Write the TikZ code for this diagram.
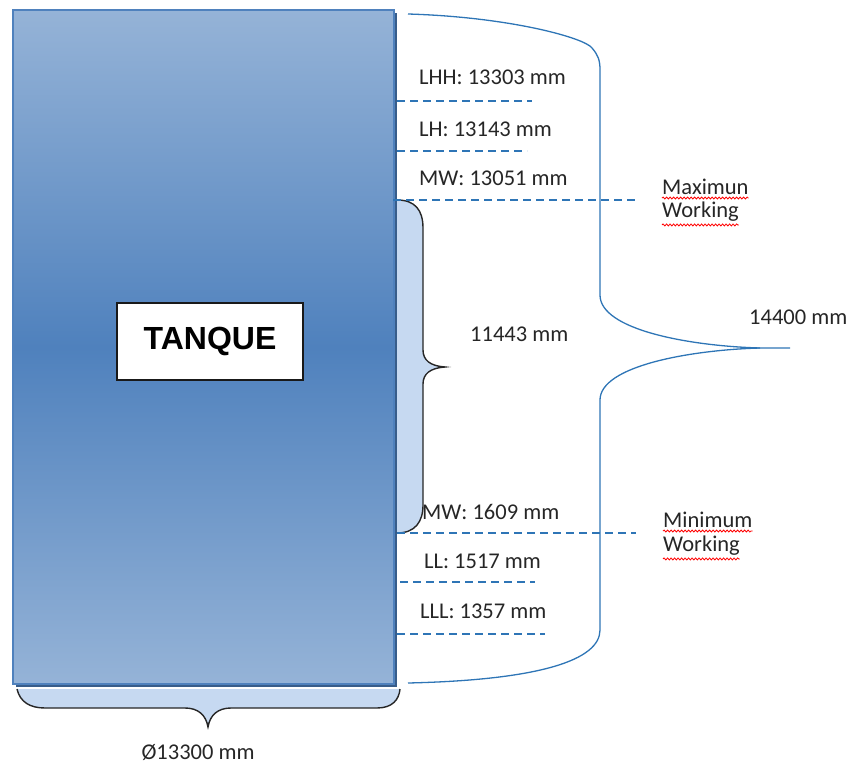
\documentclass[tikz,border=0pt]{standalone}
\usepackage{fontspec}
\setmainfont{Carlito}
\newfontfamily\arialfont{Liberation Sans}
\usetikzlibrary{decorations.pathmorphing}

\definecolor{tankdark}{RGB}{79,129,189}
\definecolor{tanklight}{RGB}{149,179,215}
\definecolor{tankedge}{RGB}{56,93,138}
\definecolor{bracefill}{RGB}{198,217,241}
\definecolor{levelblue}{RGB}{46,117,182}

\tikzset{
  level/.style={levelblue, line width=1.5pt, dash pattern=on 8pt off 5pt},
  dimline/.style={levelblue, line width=1.3pt},
  lbl/.style={anchor=west, inner sep=0pt, text=black!85, font=\fontsize{22.5}{26}\selectfont},
  spell/.style={red, line width=0.8pt, decorate,
    decoration={snake, amplitude=1pt, segment length=3.5pt}}
}

\begin{document}
\begin{tikzpicture}[x=1pt,y=-1pt]
    \useasboundingbox (0,0) rectangle (849,765);

    \def\tank{(13,10) rectangle (394,684)}
    \def\sidebrace{(397,200) .. controls (415,200) and (423,210) .. (423,228) -- (423,350)
        .. controls (423,360) and (430,366) .. (445,367)
        .. controls (430,368) and (423,374) .. (423,384) -- (423,505)
        .. controls (423,522) and (415,533) .. (397,533)}
    \def\basebrace{(17,689) .. controls (20,702) and (30,708) .. (45,708) -- (185,708)
        .. controls (198,708) and (206,715) .. (208,727)
        .. controls (210,715) and (218,708) .. (231,708) -- (377,708)
        .. controls (392,708) and (399,700) .. (400,689)}

    %draw tank:
    \fill[tankedge] (16,13) rectangle (397,687);
    \shade[top color=tanklight, bottom color=tanklight, middle color=tankdark] \tank;
    \draw[tankdark, line width=2.5pt] \tank;
    \node[draw=black!90, line width=1.5pt, fill=white, minimum width=186pt, minimum height=77pt,
        font=\arialfont\bfseries\fontsize{32}{36}\selectfont] (tanque) at (210,341.5) {TANQUE};

    %draw braces:
    \fill[bracefill] \sidebrace -- cycle;
    \draw[black!85, line width=1.4pt] \sidebrace;
    \fill[bracefill] \basebrace -- cycle;
    \draw[black!85, line width=1.4pt] \basebrace;

    %draw total height:
    \draw[dimline] (408,14) .. controls (510,17) and (585,38) .. (592,48)
        .. controls (598,55) and (600,60) .. (600,70) -- (600,295)
        .. controls (600,330) and (690,346) .. (760,348) -- (790,348);
    \draw[dimline] (760,348) .. controls (690,350) and (600,366) .. (600,400) -- (600,630)
        .. controls (600,660) and (540,680) .. (408,683);

    %draw levels:
    \draw[level] (397,101) -- (532,101);
    \draw[level] (397,151) -- (527,151);
    \draw[level] (393,200) -- (636,200);
    \draw[level] (397,533) -- (636,533);
    \draw[level] (400,582) -- (535,582);
    \draw[level] (397,634) -- (545,634);

    %labels:
    \node[lbl] (lhh) at (419,77) {LHH: 13303 mm};
    \node[lbl] (lh) at (419,129) {LH: 13143 mm};
    \node[lbl] (mwtop) at (419,178) {MW: 13051 mm};
    \node[lbl] (mwbot) at (422,512) {MW: 1609 mm};
    \node[lbl] (ll) at (424,561) {LL: 1517 mm};
    \node[lbl] (lll) at (420,611) {LLL: 1357 mm};
    \node[lbl] (span) at (470,334) {11443 mm};
    \node[lbl] (total) at (749,317) {14400 mm};
    \node[lbl, anchor=center] (diam) at (198,752) {Ø13300 mm};

    \node[lbl] (maxa) at (662,187) {Maximun};
    \node[lbl] (maxb) at (662,212) {Working};
    \node[lbl] (mina) at (663,520) {Minimum};
    \node[lbl] (minb) at (663,546) {Working};
    \foreach \w in {maxa,maxb,mina,minb}
        \draw[spell] ([yshift=-3pt]\w.south west) -- ([yshift=-3pt]\w.south east);

\end{tikzpicture}
\end{document}
